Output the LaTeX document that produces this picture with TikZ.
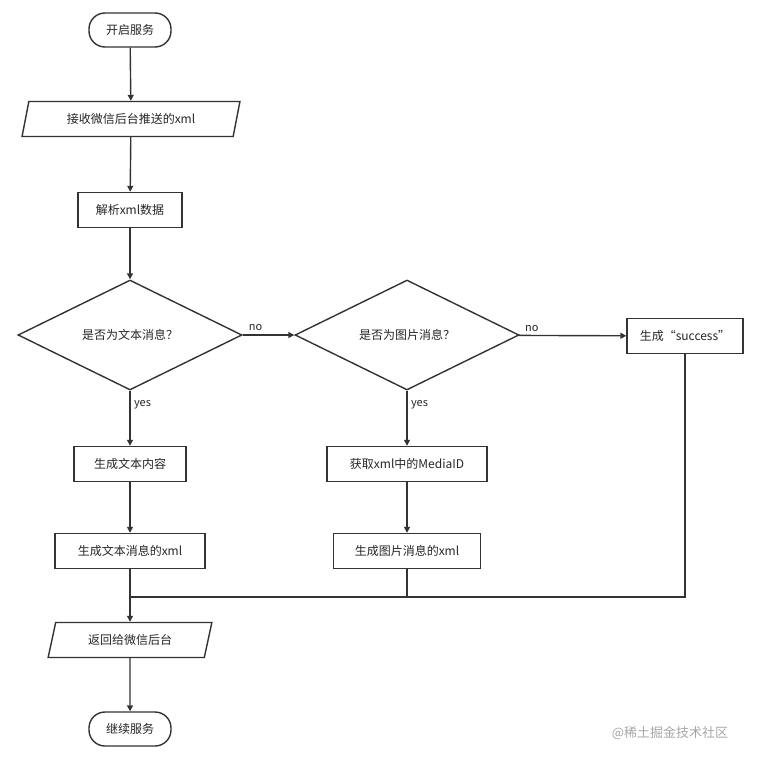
\documentclass[tikz,border=0pt]{standalone}
\usepackage{fontspec}
\setmainfont{Noto Sans CJK SC}
\usetikzlibrary{shapes.geometric,arrows.meta}
\begin{document}
\begin{tikzpicture}[x=1pt,y=-1pt,
  every node/.style={font=\fontsize{12}{14}\selectfont, text=black!85},
  box/.style={draw=black!80,line width=1.4pt,fill=white,minimum height=35pt,inner sep=0pt},
  term/.style={box,rounded corners=16pt,minimum height=34pt},
  para/.style={box,trapezium,trapezium left angle=69,trapezium right angle=111,trapezium stretches=true},
  dia/.style={box,diamond,aspect=2.04,minimum width=224pt,minimum height=110pt},
  arr/.style={draw=black!80,line width=1.4pt,-{Triangle[length=6pt,width=6pt]}},
  ln/.style={draw=black!80,line width=1.4pt},
  lab/.style={font=\fontsize{11}{13}\selectfont}]
\useasboundingbox (0,0) rectangle (761,763);
\node[term,minimum width=82pt] (s) at (130,30) {开启服务};
\node[para,minimum width=218pt] (recv) at (131,119) {接收微信后台推送的xml};
\node[box,minimum width=104pt] (parse) at (130,210) {解析xml数据};
\node[dia] (d1) at (130,335) {是否为文本消息？};
\node[dia] (d2) at (407,335) {是否为图片消息？};
\node[box,minimum width=116pt] (succ) at (685,336) {生成“success”};
\node[box,minimum width=112pt] (t1) at (130,464) {生成文本内容};
\node[box,minimum width=160pt] (p1) at (407,464) {获取xml中的MediaID};
\node[box,minimum width=150pt] (t2) at (130,551) {生成文本消息的xml};
\node[box,minimum width=147pt] (p2) at (407,551) {生成图片消息的xml};
\node[para,minimum width=164pt] (ret) at (130,640) {返回给微信后台};
\node[term,minimum width=82pt] (e) at (130,729) {继续服务};
\coordinate (m1) at (130,597);
\coordinate (m2) at (407,597);
\coordinate (m3) at (685,597);
\draw[arr] (s) -- (recv);
\draw[arr] (recv) -- (parse);
\draw[arr] (parse) -- (d1);
\draw[arr] (d1) -- node[lab,above,pos=0.25]{no} (d2);
\draw[arr] (d2) -- node[lab,above,pos=0.12]{no} (succ);
\draw[arr] (d1) -- node[lab,right,pos=0.25]{yes} (t1);
\draw[arr] (d2) -- node[lab,right,pos=0.25]{yes} (p1);
\draw[arr] (t1) -- (t2);
\draw[arr] (p1) -- (p2);
\draw[arr] (t2) -- (ret);
\draw[ln] (succ) -- (m3) -- (m1);
\draw[ln] (p2) -- (m2);
\draw[arr] (ret) -- (e);
\node[text=black!35,font=\fontsize{13}{15}\selectfont] (wm) at (670,733) {@稀土掘金技术社区};
\end{tikzpicture}
\end{document}
